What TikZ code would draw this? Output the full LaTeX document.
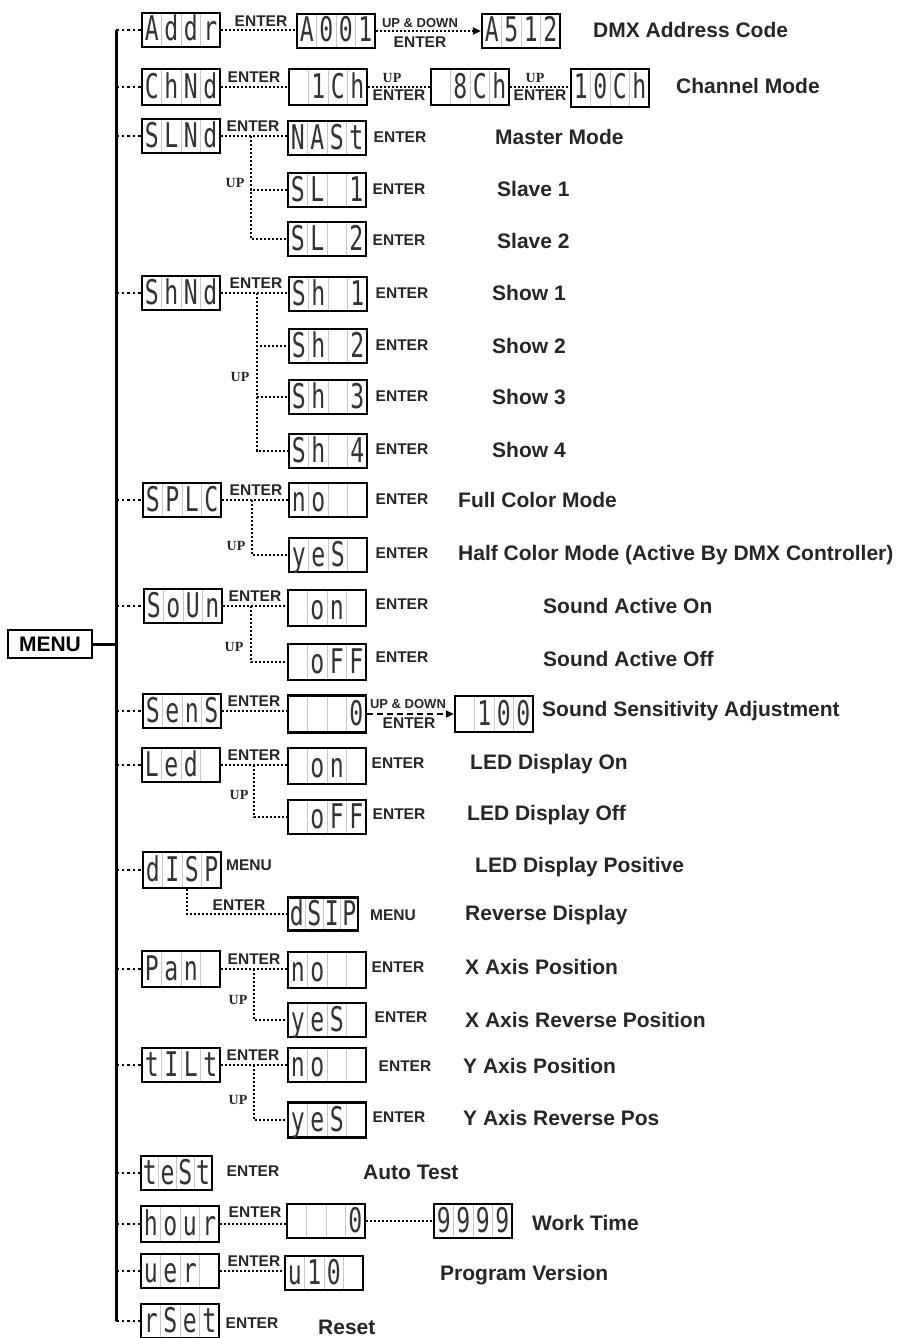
\documentclass[tikz,border=0pt]{standalone}
\usepackage{fontspec}
\setmainfont{Liberation Sans}
\newfontfamily\lcdfont{DejaVu Sans Mono}[FakeStretch=0.68]
\newfontfamily\upfont{Liberation Serif}
\usetikzlibrary{calc,arrows.meta}
\newcommand\lcdcells[5][19.5pt]{\makebox[#1]{#2}\makebox[#1]{#3}\makebox[#1]{#4}\makebox[#1]{#5}}
\tikzset{
  lcdbox/.style={draw, line width=2.4pt, minimum width=78pt, minimum height=34pt, inner sep=0pt,
    text height=25pt, text depth=3pt, font=\lcdfont\fontsize{34}{34}\selectfont, text=black!80,
    path picture={\foreach \f in {0.25,0.5,0.75}{\draw[black!22, line width=0.8pt]
      ($(path picture bounding box.south west)!\f!(path picture bounding box.south east)$) --
      ($(path picture bounding box.north west)!\f!(path picture bounding box.north east)$);}}},
  desctext/.style={anchor=west, inner sep=0pt, font=\fontsize{21}{24}\selectfont\bfseries, text=black!85},
  keytext/.style={inner sep=0pt, font=\fontsize{15.5}{16}\selectfont\bfseries, text=black!85},
  smallkey/.style={inner sep=0pt, font=\fontsize{13}{14}\selectfont\bfseries, text=black!85},
  uptext/.style={inner sep=0pt, font=\upfont\fontsize{14}{14}\selectfont\bfseries, text=black!85},
  dotline/.style={line width=2.2pt, dash pattern=on 2.2pt off 1.8pt},
  trunkdot/.style={line width=2.6pt, dash pattern=on 2.6pt off 3pt},
  tip/.style={-{Triangle[length=8pt,width=7pt]}}
}
\begin{document}
\begin{tikzpicture}[x=1pt,y=-1pt]
\useasboundingbox (0,0) rectangle (918,1338);
\coordinate (trk) at (116,0);

% MENU
\node[draw, line width=2pt, minimum width=84pt, minimum height=28pt, inner sep=0pt,
  font=\fontsize{21}{24}\selectfont\bfseries] (menu) at (50,644) {MENU};

% ---- Row 1: Addr
\node[lcdbox] (addr) at (181,30) {\lcdcells{A}{d}{d}{r}};
\node[lcdbox] (a001) at (336,31) {\lcdcells{A}{0}{0}{1}};
\node[lcdbox] (a512) at (521,31) {\lcdcells{A}{5}{1}{2}};
\node[keytext, anchor=south] (k1a) at (261,27) {ENTER};
\node[smallkey, anchor=south] (k1b) at (420,28) {UP \& DOWN};
\node[keytext, anchor=north] (k1c) at (420,37) {ENTER};
\node[desctext] (d1) at (593,30) {DMX Address Code};
\draw[dotline] (addr.east) -- (addr.east -| a001.west);
\draw[dotline, tip] (a001.east) -- (a001.east -| a512.west);

% ---- Row 2: ChNd
\node[lcdbox, minimum height=36pt] (chnd) at (181,87) {\lcdcells{C}{h}{N}{d}};
\node[lcdbox, minimum height=36pt] (ch1) at (328,87) {\lcdcells{}{1}{C}{h}};
\node[lcdbox, minimum height=36pt] (ch8) at (470,87) {\lcdcells{}{8}{C}{h}};
\node[lcdbox, minimum height=38pt] (ch10) at (610,88) {\lcdcells{1}{0}{C}{h}};
\node[keytext, anchor=south] (k2a) at (254,83) {ENTER};
\node[uptext, anchor=south] (k2b) at (392,83) {UP};
\node[keytext, anchor=north] (k2c) at (399,90) {ENTER};
\node[uptext, anchor=south] (k2d) at (535,83) {UP};
\node[keytext, anchor=north] (k2e) at (540,90) {ENTER};
\node[desctext] (d2) at (676,86) {Channel Mode};
\draw[dotline] (chnd.east) -- (chnd.east -| ch1.west);
\draw[dotline] (ch1.east) -- (ch1.east -| ch8.west);
\draw[dotline] (ch8.east) -- (ch8.east -| ch10.west);

% ---- Row 3: SLNd
\node[lcdbox] (slnd) at (181,136) {\lcdcells{S}{L}{N}{d}};
\node[lcdbox] (nast) at (327,138) {\lcdcells{N}{A}{S}{t}};
\node[lcdbox] (sl1) at (327,190) {\lcdcells{S}{L}{}{1}};
\node[lcdbox] (sl2) at (327,239) {\lcdcells{S}{L}{}{2}};
\coordinate (j3) at (251,136);
\node[keytext, anchor=south] (k3a) at (253,132) {ENTER};
\node[uptext] (k3u) at (235,183) {UP};
\node[keytext] (k3b) at (400,137) {ENTER};
\node[keytext] (k3c) at (399,189) {ENTER};
\node[keytext] (k3d) at (399,240) {ENTER};
\node[desctext] (d3a) at (495,137) {Master Mode};
\node[desctext] (d3b) at (497,189) {Slave 1};
\node[desctext] (d3c) at (497,241) {Slave 2};
\draw[dotline] (slnd.east) -- (slnd.east -| nast.west);
\draw[dotline] (j3) |- (sl1.west);
\draw[dotline] (j3) |- (sl2.west);

% ---- Row 4: ShNd
\node[lcdbox] (shnd) at (181,293) {\lcdcells{S}{h}{N}{d}};
\node[lcdbox] (sh1) at (328,294) {\lcdcells{S}{h}{}{1}};
\node[lcdbox] (sh2) at (328,346) {\lcdcells{S}{h}{}{2}};
\node[lcdbox] (sh3) at (328,397) {\lcdcells{S}{h}{}{3}};
\node[lcdbox] (sh4) at (328,451) {\lcdcells{S}{h}{}{4}};
\coordinate (j4) at (257,293);
\node[keytext, anchor=south] (k4a) at (256,289) {ENTER};
\node[uptext] (k4u) at (240,377) {UP};
\node[keytext] (k4b) at (402,293) {ENTER};
\node[keytext] (k4c) at (402,345) {ENTER};
\node[keytext] (k4d) at (402,396) {ENTER};
\node[keytext] (k4e) at (402,449) {ENTER};
\node[desctext] (d4a) at (492,293) {Show 1};
\node[desctext] (d4b) at (492,346) {Show 2};
\node[desctext] (d4c) at (492,397) {Show 3};
\node[desctext] (d4d) at (492,450) {Show 4};
\draw[dotline] (shnd.east) -- (shnd.east -| sh1.west);
\draw[dotline] (j4) |- (sh2.west);
\draw[dotline] (j4) |- (sh3.west);
\draw[dotline] (j4) |- (sh4.west);

% ---- Row 5: SPLC
\node[lcdbox] (splc) at (182,500) {\lcdcells{S}{P}{L}{C}};
\node[lcdbox] (cno) at (328,500) {\lcdcells{n}{o}{}{}};
\node[lcdbox] (cyes) at (328,555) {\lcdcells{y}{e}{S}{}};
\coordinate (j5) at (252,500);
\node[keytext, anchor=south] (k5a) at (256,496) {ENTER};
\node[uptext] (k5u) at (236,546) {UP};
\node[keytext] (k5b) at (402,499) {ENTER};
\node[keytext] (k5c) at (402,553) {ENTER};
\node[desctext] (d5a) at (458,500) {Full Color Mode};
\node[desctext] (d5b) at (458,555) {Half Color Mode (Active By DMX Controller)};
\draw[dotline] (splc.east) -- (splc.east -| cno.west);
\draw[dotline] (j5) |- (cyes.west);

% ---- Row 6: SoUn
\node[lcdbox] (soun) at (183,606) {\lcdcells{S}{o}{U}{n}};
\node[lcdbox, minimum height=36pt] (son) at (327,608) {\lcdcells{}{o}{n}{}};
\node[lcdbox, minimum height=36pt] (soff) at (327,662) {\lcdcells{}{o}{F}{F}};
\coordinate (j6) at (251,606);
\node[keytext, anchor=south] (k6a) at (255,602) {ENTER};
\node[uptext] (k6u) at (234,647) {UP};
\node[keytext] (k6b) at (402,604) {ENTER};
\node[keytext] (k6c) at (402,657) {ENTER};
\node[desctext] (d6a) at (543,606) {Sound Active On};
\node[desctext] (d6b) at (543,659) {Sound Active Off};
\draw[dotline] (soun.east) -- (soun.east -| son.west);
\draw[dotline] (j6) |- (soff.west);

% ---- Row 7: SEnS
\node[lcdbox] (sens) at (182,711) {\lcdcells{S}{e}{n}{S}};
\node[lcdbox, minimum height=37pt] (s0) at (327,714) {\lcdcells{}{}{}{0}};
\node[lcdbox, minimum height=36pt] (s100) at (494,714) {\lcdcells{}{1}{0}{0}};
\node[keytext, anchor=south] (k7a) at (254,707) {ENTER};
\node[smallkey, anchor=south] (k7b) at (408,709) {UP \& DOWN};
\node[keytext, anchor=north] (k7c) at (409,718) {ENTER};
\node[desctext] (d7) at (542,711) {Sound Sensitivity Adjustment};
\draw[dotline] (sens.east) -- (sens.east -| s0.west);
\draw[line width=2pt, dash pattern=on 6pt off 4pt, tip] (s0.east) -- (s0.east -| s100.west);

% ---- Row 8: LEd
\node[lcdbox] (led) at (181,765) {\lcdcells{L}{e}{d}{}};
\node[lcdbox, minimum height=36pt] (lon) at (327,766) {\lcdcells{}{o}{n}{}};
\node[lcdbox] (loff) at (327,817) {\lcdcells{}{o}{F}{F}};
\coordinate (j8) at (254,765);
\node[keytext, anchor=south] (k8a) at (254,761) {ENTER};
\node[uptext] (k8u) at (239,795) {UP};
\node[keytext] (k8b) at (398,763) {ENTER};
\node[keytext] (k8c) at (399,814) {ENTER};
\node[desctext] (d8a) at (470,764) {LED Display On};
\node[desctext] (d8b) at (467,815) {LED Display Off};
\draw[dotline] (led.east) -- (led.east -| lon.west);
\draw[dotline] (j8) |- (loff.west);

% ---- Row 9: dISP
\node[lcdbox, minimum height=36pt] (disp) at (182,870) {\lcdcells{d}{I}{S}{P}};
\node[lcdbox, minimum width=70pt, minimum height=33pt] (dsip) at (323,914) {\lcdcells[17.5pt]{d}{S}{I}{P}};
\node[keytext, anchor=west] (k9a) at (226,865) {MENU};
\node[keytext, anchor=south] (k9b) at (239,911) {ENTER};
\node[keytext] (k9c) at (393,915) {MENU};
\node[desctext] (d9a) at (475,867) {LED Display Positive};
\node[desctext] (d9b) at (465,915) {Reverse Display};
\draw[dotline] ([xshift=5pt]disp.south) |- (dsip.west);

% ---- Row 10: Pan
\node[lcdbox, minimum height=36pt] (pan) at (181,969) {\lcdcells{P}{a}{n}{}};
\node[lcdbox, minimum height=36pt] (pno) at (327,970) {\lcdcells{n}{o}{}{}};
\node[lcdbox] (pyes) at (327,1020) {\lcdcells{y}{e}{S}{}};
\coordinate (j10) at (254,969);
\node[keytext, anchor=south] (k10a) at (254,965) {ENTER};
\node[uptext] (k10u) at (238,1000) {UP};
\node[keytext] (k10b) at (398,967) {ENTER};
\node[keytext] (k10c) at (401,1017) {ENTER};
\node[desctext] (d10a) at (465,967) {X Axis Position};
\node[desctext] (d10b) at (465,1020) {X Axis Reverse Position};
\draw[dotline] (pan.east) -- (pan.east -| pno.west);
\draw[dotline] (j10) |- (pyes.west);

% ---- Row 11: tILt
\node[lcdbox] (tilt) at (181,1065) {\lcdcells{t}{I}{L}{t}};
\node[lcdbox] (tno) at (327,1065) {\lcdcells{n}{o}{}{}};
\node[lcdbox, minimum height=35pt] (tyes) at (327,1120) {\lcdcells{y}{e}{S}{}};
\coordinate (j11) at (254,1065);
\node[keytext, anchor=south] (k11a) at (253,1061) {ENTER};
\node[uptext] (k11u) at (238,1100) {UP};
\node[keytext] (k11b) at (405,1066) {ENTER};
\node[keytext] (k11c) at (399,1117) {ENTER};
\node[desctext] (d11a) at (463,1066) {Y Axis Position};
\node[desctext] (d11b) at (463,1118) {Y Axis Reverse Pos};
\draw[dotline] (tilt.east) -- (tilt.east -| tno.west);
\draw[dotline] (j11) |- (tyes.west);

% ---- Row 12: tESt
\node[lcdbox, minimum width=71pt] (test) at (176.5,1173) {\lcdcells[17.75pt]{t}{e}{S}{t}};
\node[keytext] (k12) at (253,1171) {ENTER};
\node[desctext] (d12) at (363,1172) {Auto Test};

% ---- Row 13: hour
\node[lcdbox, minimum height=36pt] (hour) at (180,1224) {\lcdcells{h}{o}{u}{r}};
\node[lcdbox] (h0) at (326,1221) {\lcdcells{}{}{}{0}};
\node[lcdbox] (h9999) at (473,1221) {\lcdcells{9}{9}{9}{9}};
\node[keytext, anchor=south] (k13) at (255,1218) {ENTER};
\node[desctext] (d13) at (532,1223) {Work Time};
\draw[dotline] (hour.east) -- (hour.east -| h0.west);
\draw[dotline] (h0.east) -- (h0.east -| h9999.west);

% ---- Row 14: uEr
\node[lcdbox] (uer) at (180,1271) {\lcdcells{u}{e}{r}{}};
\node[lcdbox] (u10) at (324,1273) {\lcdcells{u}{1}{0}{}};
\node[keytext, anchor=south] (k14) at (254,1267) {ENTER};
\node[desctext] (d14) at (440,1275) {Program Version};
\draw[dotline] (uer.east) -- (uer.east -| u10.west);

% ---- Row 15: rSEt
\node[lcdbox] (rset) at (180,1321) {\lcdcells{r}{S}{e}{t}};
\node[keytext] (k15) at (252,1323) {ENTER};
\node[desctext] (d15) at (318,1327) {Reset};

% ---- Trunk and branches
\draw[line width=3pt] (trk |- addr.west) -- (trk |- rset.west);
\draw[line width=3pt] (menu.east) -- (menu.east -| trk);
\foreach \n in {addr,chnd,slnd,shnd,splc,soun,sens,led,disp,pan,tilt,test,hour,uer,rset}{
  \draw[trunkdot] (trk |- \n.west) -- (\n.west);
}
\end{tikzpicture}
\end{document}
